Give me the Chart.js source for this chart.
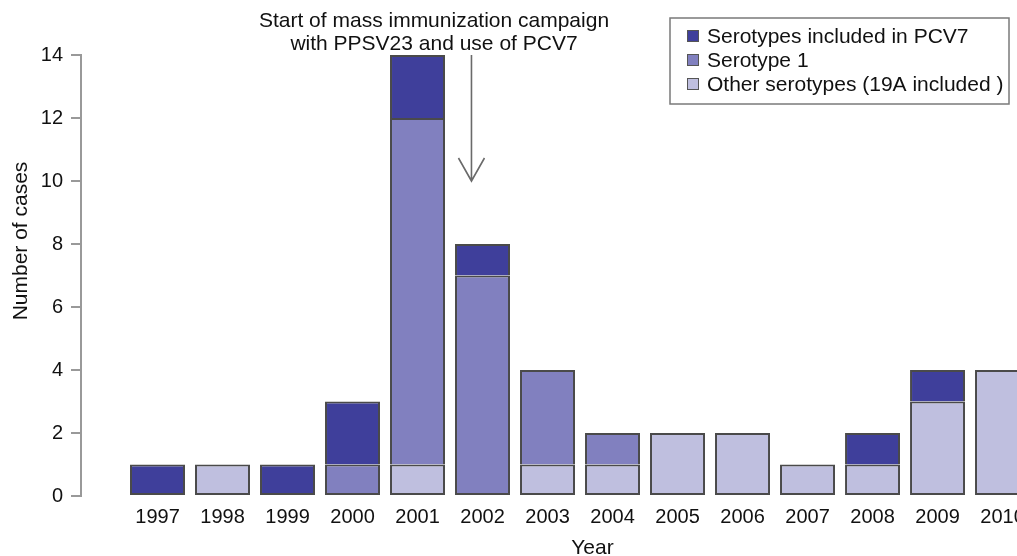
<!DOCTYPE html>
<html>
<head>
<meta charset="utf-8">
<script src="https://cdn.jsdelivr.net/npm/chart.js@4/dist/chart.umd.min.js"></script>
<style>
  html, body { margin: 0; padding: 0; background: #fff; width: 1017px; height: 556px; overflow: hidden; }
  #wrap { position: relative; width: 1120px; height: 556px; }
</style>
</head>
<body>
<div id="wrap"><canvas id="c"></canvas></div>
<script>
// ---- data ----
const years = [1997, 1998, 1999, 2000, 2001, 2002, 2003, 2004, 2005, 2006, 2007, 2008, 2009, 2010];
const otherSerotypes = [0, 1, 0, 0, 1, 0, 1, 1, 2, 2, 1, 1, 3, 4];
const serotype1      = [0, 0, 0, 1, 11, 7, 3, 1, 0, 0, 0, 0, 0, 0];
const pcv7Serotypes  = [1, 0, 1, 2, 2, 1, 0, 0, 0, 0, 0, 1, 1, 0];
const yTicks = [0, 2, 4, 6, 8, 10, 12, 14];
const seriesLabels = ['Other serotypes (19A included )', 'Serotype 1', 'Serotypes included in PCV7'];
const annotationLines = ['Start of mass immunization campaign', 'with PPSV23 and use of PCV7'];
const xTitle = 'Year';
const yTitle = 'Number of cases';

// ---- style ----
const FONT = '"Liberation Sans", Arial, Helvetica, sans-serif';
const colors = ['#bfbfdf', '#8180bf', '#3f3f9b'];
const seriesData = [otherSerotypes, serotype1, pcv7Serotypes];

function isLowest(ctx) {
  const i = ctx.dataIndex;
  for (let d = 0; d < ctx.datasetIndex; d++) {
    if (seriesData[d][i] > 0) return false;
  }
  return true;
}

const datasets = seriesData.map((arr, k) => ({
  label: seriesLabels[k],
  data: arr,
  backgroundColor: colors[k],
  borderColor: '#4a4a4a',
  borderWidth: 2,
  borderSkipped: (ctx) => isLowest(ctx) ? false : 'start',
  barPercentage: 0.846,
  categoryPercentage: 1.0
}));

const overlayPlugin = {
  id: 'overlay',
  afterDraw(chart) {
    const c = chart.ctx;
    const xs = chart.scales.x, ys = chart.scales.y;
    c.save();
    // annotation text
    c.fillStyle = '#111';
    c.font = '21px ' + FONT;
    c.textAlign = 'center';
    c.textBaseline = 'alphabetic';
    c.fillText(annotationLines[0], 434, 27);
    c.fillText(annotationLines[1], 434, 50);
    // arrow
    const ax = xs.getPixelForValue(2001.83);
    const aTop = ys.getPixelForValue(14);
    const aTip = ys.getPixelForValue(10);
    c.strokeStyle = '#6a6a6a';
    c.lineWidth = 1.6;
    c.beginPath();
    c.moveTo(ax, aTop); c.lineTo(ax, aTip);
    c.moveTo(ax - 13, aTip - 23); c.lineTo(ax, aTip); c.lineTo(ax + 13, aTip - 23);
    c.stroke();
    // axis titles
    c.fillStyle = '#111';
    c.font = '21px ' + FONT;
    c.textAlign = 'center';
    c.fillText(xTitle, (chart.chartArea.left + chart.chartArea.right) / 2, 554);
    c.save();
    c.translate(27, 241);
    c.rotate(-Math.PI / 2);
    c.fillText(yTitle, 0, 0);
    c.restore();
    // legend box
    c.strokeStyle = '#7a7a7a';
    c.lineWidth = 1.5;
    c.fillStyle = '#fff';
    c.fillRect(670, 18, 339, 86);
    c.strokeRect(670, 18, 339, 86);
    const order = [2, 1, 0];
    order.forEach((d, r) => {
      const ds = chart.data.datasets[d];
      const cy = 36 + r * 24;
      c.fillStyle = ds.backgroundColor;
      c.fillRect(687, cy - 6, 12, 12);
      c.strokeStyle = '#555';
      c.lineWidth = 1;
      c.strokeRect(687.5, cy - 5.5, 11, 11);
      c.fillStyle = '#111';
      c.font = '21px ' + FONT;
      c.textAlign = 'left';
      c.textBaseline = 'middle';
      c.fillText(ds.label, 707, cy + 1);
    });
    c.restore();
  }
};

new Chart(document.getElementById('c'), {
  type: 'bar',
  data: { labels: years, datasets },
  options: {
    responsive: true,
    maintainAspectRatio: false,
    animation: false,
    layout: { padding: { top: 55, right: 16, bottom: 0, left: 0 } },
    plugins: { legend: { display: false }, tooltip: { enabled: false } },
    scales: {
      x: {
        type: 'linear',
        stacked: true,
        offset: false,
        min: 1995.823,
        max: 2011.561,
        afterBuildTicks: (s) => { s.ticks = years.map(v => ({ value: v })); },
        afterFit: (s) => { s.height = 60; },
        grid: { display: false, offset: false },
        border: { display: false },
        ticks: {
          color: '#111',
          font: { size: 20, family: FONT },
          padding: 1,
          maxRotation: 0,
          autoSkip: false,
          callback: (v) => String(v)
        }
      },
      y: {
        stacked: true,
        min: 0,
        max: 14,
        afterBuildTicks: (s) => { s.ticks = yTicks.map(v => ({ value: v })); },
        afterFit: (s) => { s.width = 81; },
        grid: { drawOnChartArea: false, drawTicks: true, tickLength: 10, color: '#999', lineWidth: 2 },
        border: { display: true, color: '#999', width: 2 },
        ticks: {
          color: '#111',
          font: { size: 20, family: FONT },
          padding: 8,
          callback: (v) => String(v)
        }
      }
    }
  },
  plugins: [overlayPlugin]
});
</script>
</body>
</html>
